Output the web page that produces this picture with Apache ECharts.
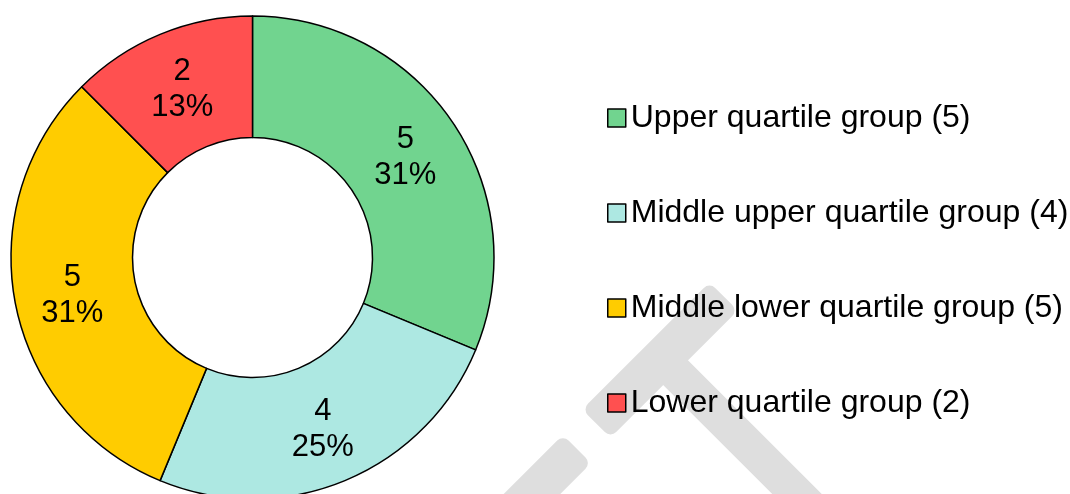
<!DOCTYPE html>
<html>
<head>
<meta charset="utf-8">
<title>Quartile groups</title>
<script src="https://cdn.jsdelivr.net/npm/echarts@6/dist/echarts.min.js"></script>
<style>
  html, body { margin: 0; padding: 0; background: #ffffff; }
  #chart { width: 1070px; height: 494px; }
</style>
</head>
<body>
<div id="chart"></div>
<script>
// Group names and how many members fall in each
const categories = [
  'Upper quartile group',
  'Middle upper quartile group',
  'Middle lower quartile group',
  'Lower quartile group'
];
const counts = [5, 4, 5, 2];
const colors = ['#71D48F', '#ADE8E2', '#FFCC00', '#FF5050'];

const FONT = '"Liberation Sans", Arial, sans-serif';

// Light grey hammer-shaped mark in the lower right
function bar(cx, cy, len, w, rot) {
  return {
    type: 'rect',
    x: cx, y: cy,
    rotation: rot,
    shape: { x: -len / 2, y: -w / 2, width: len, height: w, r: 8 },
    style: { fill: '#DEDEDE' },
    z: -10, silent: true
  };
}

const chart = echarts.init(document.getElementById('chart'), null, { renderer: 'canvas' });

chart.setOption({
  animation: false,
  backgroundColor: '#ffffff',
  graphic: {
    elements: [
      bar(749, 446, 250, 35, -Math.PI / 4),
      bar(660, 360, 180, 40, Math.PI / 4),
      bar(524, 502, 150, 40, Math.PI / 4)
    ]
  },
  legend: {
    orient: 'vertical',
    left: 607,
    top: 98,
    padding: 0,
    selectedMode: false,
    icon: 'rect',
    itemWidth: 18,
    itemHeight: 18,
    itemGap: 55,
    itemStyle: { borderColor: '#000', borderWidth: 1.5 },
    textStyle: { fontFamily: FONT, fontSize: 32, color: '#000', lineHeight: 40 },
    formatter: function (name) {
      return name + ' (' + counts[categories.indexOf(name)] + ')';
    },
    data: categories
  },
  series: [{
    type: 'pie',
    center: [252.5, 257.5],
    radius: [120, 241.5],
    startAngle: 90,
    clockwise: true,
    percentPrecision: 0,
    avoidLabelOverlap: false,
    itemStyle: { borderColor: '#000', borderWidth: 1.5 },
    label: {
      show: true,
      position: 'inside',
      formatter: '{c}\n{d}%',
      fontFamily: FONT,
      fontSize: 31,
      lineHeight: 36,
      color: '#000',
      align: 'center',
      offset: [0, 2]
    },
    labelLine: { show: false },
    emphasis: { disabled: true },
    data: categories.map((name, i) => ({
      name: name,
      value: counts[i],
      itemStyle: { color: colors[i] }
    }))
  }]
});
</script>
</body>
</html>
